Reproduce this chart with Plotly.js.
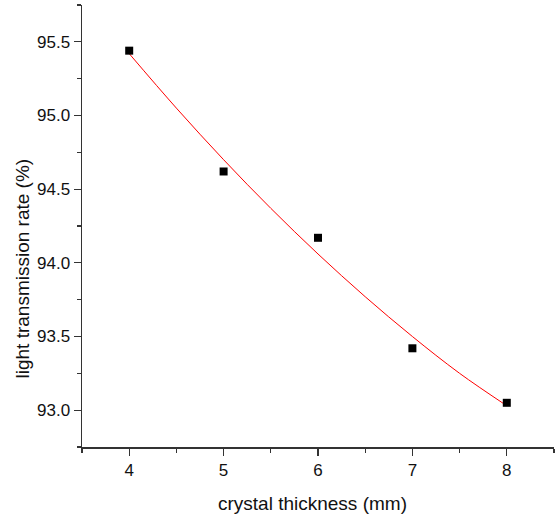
<!DOCTYPE html>
<html>
<head>
<meta charset="utf-8">
<script src="https://cdn.plot.ly/plotly-3.0.1.min.js"></script>
<style>html,body{margin:0;padding:0;background:#fff;}#chart{width:559px;height:519px;}</style>
</head>
<body>
<div id="chart"></div>
<script>
// measured points
const thickness = [4, 5, 6, 7, 8];
const transmission = [95.44, 94.62, 94.17, 93.42, 93.05];
// fitted curve
const fitX = [4, 4.5, 5, 5.5, 6, 6.5, 7, 7.5, 8];
const fitY = [95.42, 95.05, 94.70, 94.37, 94.06, 93.77, 93.50, 93.25, 93.03];
const xTicks = [4, 5, 6, 7, 8];
const yTicks = [93.0, 93.5, 94.0, 94.5, 95.0, 95.5];
const yTickText = ['93.0', '93.5', '94.0', '94.5', '95.0', '95.5'];
const xTitle = 'crystal thickness (mm)';
const yTitle = 'light transmission rate (%)';

const font = 'Liberation Sans, Arial, sans-serif';
const traces = [
  {x: fitX, y: fitY, mode: 'lines', line: {color: '#ff0000', width: 1, shape: 'spline'}, hoverinfo: 'skip'},
  {x: thickness, y: transmission, mode: 'markers', marker: {symbol: 'square', size: 8, color: '#000'}}
];
const axisCommon = {
  showgrid: false, zeroline: false, showline: true, linecolor: '#333', linewidth: 1.5,
  ticks: 'outside', ticklen: 7, tickwidth: 1.2, tickcolor: '#333',
  tickfont: {family: font, size: 17, color: '#111'}
};
const layout = {
  width: 559, height: 519,
  margin: {l: 82, r: 5, t: 5, b: 72},
  paper_bgcolor: '#fff', plot_bgcolor: '#fff',
  showlegend: false,
  xaxis: Object.assign({}, axisCommon, {
    range: [3.5, 8.5], tickvals: xTicks, ticktext: xTicks.map(String),
    minor: {dtick: 0.5, tick0: 3.5, ticks: 'outside', ticklen: 4, tickwidth: 1.2, tickcolor: '#333'}
  }),
  yaxis: Object.assign({}, axisCommon, {
    range: [92.75, 95.75], tickvals: yTicks, ticktext: yTickText,
    minor: {dtick: 0.25, tick0: 92.75, ticks: 'outside', ticklen: 4, tickwidth: 1.2, tickcolor: '#333'}
  }),
  annotations: [
    {text: xTitle, xref: 'paper', yref: 'paper', x: 0.488, y: -0.1267, xanchor: 'center', yanchor: 'middle',
     showarrow: false, font: {family: font, size: 19, color: '#111'}},
    {text: yTitle, xref: 'paper', yref: 'paper', x: -0.124, y: 0.405, xanchor: 'center', yanchor: 'middle',
     textangle: -90, showarrow: false, font: {family: font, size: 19, color: '#111'}}
  ]
};
Plotly.newPlot('chart', traces, layout, {displayModeBar: false, staticPlot: true});
</script>
</body>
</html>
